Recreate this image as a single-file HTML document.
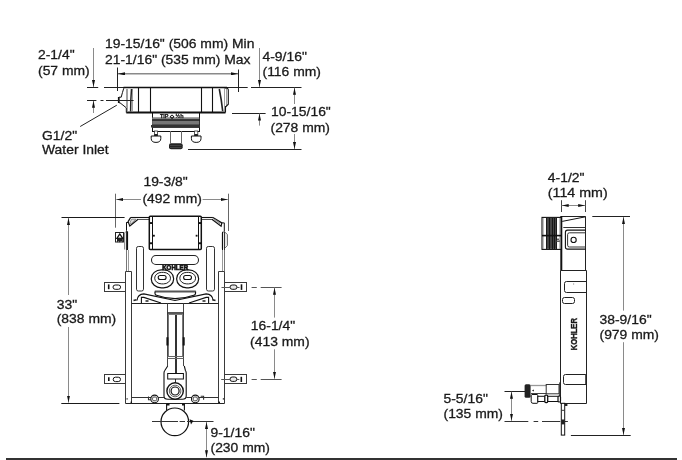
<!DOCTYPE html>
<html><head><meta charset="utf-8"><style>
html,body{margin:0;padding:0;background:#fff;width:682px;height:460px;overflow:hidden}
svg{display:block;will-change:transform}
text{font-family:"Liberation Sans",sans-serif;fill:#1a1a1a}
.d{font-size:13px;stroke:#1a1a1a;stroke-width:0.3px}
.b{font-weight:bold}
</style></head><body>
<svg width="682" height="460" viewBox="0 0 682 460">
<defs>
<marker id="ar" viewBox="0 0 7 3" refX="7" refY="1.5" markerWidth="7" markerHeight="3" orient="auto-start-reverse" markerUnits="userSpaceOnUse"><path d="M7,1.5 L0,0 L0,3 z" fill="#111"/></marker>
</defs>

<!-- ================= TOP VIEW ================= -->
<g stroke="#222" stroke-width="1" fill="none">
<line x1="117.5" y1="67.5" x2="117.5" y2="91"/>
<line x1="238.5" y1="69.5" x2="238.5" y2="92"/>
<line x1="118" y1="73.8" x2="238" y2="73.8" stroke="#8a8a8a" stroke-width="1.4" marker-start="url(#ar)" marker-end="url(#ar)"/>
<line stroke="#8a8a8a" x1="93.5" y1="48" x2="93.5" y2="87" marker-end="url(#ar)"/>
<line stroke="#8a8a8a" x1="93.5" y1="113" x2="93.5" y2="100.8" marker-end="url(#ar)"/>
<path d="M87,87.5H98.2M104,87.5H124M227,87.5H247.7M251,87.5H301.5"/>
<path d="M87,100.5H96.4M100.5,100.5H103.5M107,100.5H118.5"/>
<line x1="80.2" y1="126.5" x2="116.8" y2="105.2"/>
<line stroke="#8a8a8a" x1="259.5" y1="48" x2="259.5" y2="87" marker-end="url(#ar)"/>
<line x1="232" y1="113.5" x2="265.6" y2="113.5"/>
<line stroke="#8a8a8a" x1="259.5" y1="125.6" x2="259.5" y2="113.6" marker-end="url(#ar)"/>
<line stroke="#8a8a8a" x1="294.5" y1="104" x2="294.5" y2="87.8" marker-end="url(#ar)"/>
<line stroke="#8a8a8a" x1="294.5" y1="134" x2="294.5" y2="149" marker-end="url(#ar)"/>
<line x1="188" y1="149.5" x2="301.5" y2="149.5"/>
</g>
<g stroke="#111" fill="none">
<path d="M123.5,87.5H227" stroke-width="1.6"/>
<path d="M126.3,112.6H225.5" stroke-width="2"/>
<line x1="138.5" y1="88" x2="138.5" y2="112" stroke-width="1.1"/>
<line x1="150.5" y1="88" x2="150.5" y2="112" stroke-width="1.1"/>
<line x1="201.5" y1="88" x2="201.5" y2="112" stroke-width="1.1"/>
<line x1="212.5" y1="88" x2="212.5" y2="112" stroke-width="1.1"/>
<!-- left cap -->
<path d="M123.8,88.2 Q122.5,92 121.2,97.2 H119 V102.8 H120 L126.3,107.8 V112.6" stroke-width="1"/>
<path d="M118.6,97 V103" stroke-width="1.4"/>
<path d="M126.5,89V107.5M127.5,89V111.5M132.5,89V111.5" stroke="#888" stroke-width="0.8"/>
<path d="M131.5,89 Q130.6,100 130.6,111.5" stroke="#222" stroke-width="1.5"/>
<path d="M133.6,100.5H106" stroke="#222" stroke-width="1"/>
<!-- right cap -->
<path d="M219.3,89 Q221.5,100 222.7,111.2" stroke="#222" stroke-width="1.6"/>
<path d="M224.5,89V111.2M226.5,89V106" stroke="#888" stroke-width="0.8"/>
<path d="M224,87.6 L227.3,88.3 Q228.3,89 228.3,90 V104.2 L225.9,106.6 H225.5 V112.6" stroke-width="1.1"/>
<!-- base -->
<rect x="152.5" y="113" width="47" height="18.5" fill="#fff" stroke-width="1"/>
<rect x="152.3" y="117.6" width="46.9" height="10.3" fill="#555" stroke="none"/>
<rect x="152.3" y="117.6" width="46.9" height="1.5" fill="#888" stroke="none"/>
<rect x="152.3" y="119.1" width="46.9" height="1.9" fill="#333" stroke="none"/>
<rect x="152.3" y="121" width="46.9" height="3.6" fill="#777" stroke="none"/>
<rect x="152.3" y="124.6" width="46.9" height="3.2" fill="#333" stroke="none"/>
<path d="M151.5,125V127.5M199.5,125V127.5" stroke="#333" stroke-width="1"/>
<path d="M170.5,131V143.3M181.5,131V143.3" stroke="#666" stroke-width="1"/>
<rect x="169" y="143.3" width="13.7" height="6" rx="2" fill="#222" stroke="none"/>
<path d="M170,145.5H181.5M170,147.5H181.5" stroke="#555" stroke-width="0.6"/>
<rect x="154.4" y="131" width="3.2" height="5" fill="#fff" stroke="#333" stroke-width="0.8"/>
<rect x="154.4" y="134" width="3.2" height="2" fill="#222" stroke="none"/>
<path d="M151.2,136 H160.8 V138.5 Q160.8,142.4 156,142.4 Q151.2,142.4 151.2,138.5 Z" fill="#fff" stroke-width="1"/>
<rect x="194.6" y="131" width="3.2" height="5" fill="#fff" stroke="#333" stroke-width="0.8"/>
<rect x="194.6" y="134" width="3.2" height="2" fill="#222" stroke="none"/>
<path d="M191.4,136 H201 V138.5 Q201,142.4 196.2,142.4 Q191.4,142.4 191.4,138.5 Z" fill="#fff" stroke-width="1"/>
</g>
<text x="160" y="117.6" class="b" style="font-size:5.2px" stroke="#111" stroke-width="0.25" textLength="23.5" lengthAdjust="spacingAndGlyphs">TIP ◇ ½h</text>

<!-- ================= FRONT VIEW ================= -->
<g stroke="#222" stroke-width="1" fill="none">
<!-- width dim -->
<line x1="115.5" y1="193.7" x2="115.5" y2="227.7" stroke="#666"/>
<line x1="228.5" y1="193.7" x2="228.5" y2="231" stroke="#666"/>
<line x1="116.3" y1="199.5" x2="141" y2="199.5" stroke="#8a8a8a" marker-start="url(#ar)"/>
<line x1="202.6" y1="199.5" x2="227.8" y2="199.5" stroke="#8a8a8a" marker-end="url(#ar)"/>
<!-- 33 dim -->
<line x1="61.5" y1="217.5" x2="124.6" y2="217.5" stroke="#1a1a1a"/>
<line x1="68.5" y1="217.9" x2="68.5" y2="295" stroke="#8a8a8a" marker-start="url(#ar)"/>
<line x1="68.5" y1="327" x2="68.5" y2="402.6" stroke="#8a8a8a" marker-end="url(#ar)"/>
<line x1="61.3" y1="403.5" x2="119.4" y2="403.5" stroke="#1a1a1a"/>
<!-- 16-1/4 dim -->
<path d="M251.6,287.5H256.8M260.7,287.5H281.6" stroke="#555"/>
<path d="M251.6,379.5H256.8M260.7,379.5H281.6" stroke="#555"/>
<line x1="274.5" y1="287.7" x2="274.5" y2="317.6" stroke="#8a8a8a" marker-start="url(#ar)"/>
<line x1="274.5" y1="349.3" x2="274.5" y2="378.7" stroke="#8a8a8a" marker-end="url(#ar)"/>
<!-- 9-1/16 dim -->
<line x1="206.5" y1="422" x2="206.5" y2="457.3" stroke="#8a8a8a" marker-start="url(#ar)" marker-end="url(#ar)"/>
</g>

<g stroke="#111" stroke-width="1" fill="none">
<!-- top rails left -->
<path d="M130.7,217.5H149.4" stroke-width="1.1"/>
<path d="M138.1,219.5H149.4" stroke="#555"/>
<path d="M130.7,217.4 L128.1,221.6 L129.8,225.9 L138.1,219.2" stroke-width="1.2"/>
<path d="M131.6,219.2 L130.1,222.3 L130.8,224 L135.8,219.2 Z" fill="#e0e0e0" stroke="#666" stroke-width="0.7"/>
<path d="M126.3,222.5H128.1M126.5,222.4V230.7"/>
<!-- top rails right -->
<path d="M201.3,217.5H212.9" stroke-width="1.1"/>
<path d="M201.3,219.5H211.9" stroke="#555"/>
<path d="M212.9,217.4 L221.8,222.9 L221.1,226.2 L211.9,219.2" stroke-width="1.2"/>
<path d="M214.5,219 L219.8,222.7 L219.8,223.8 L216.5,221.3 Z" fill="#e0e0e0" stroke="#666" stroke-width="0.7"/>
<path d="M221.8,222.9 H224.3 V231.8"/>
<!-- side plates -->
<path d="M124.5,249.5 V233 Q124.7,231.6 127.7,231.5 V249.5" fill="#e6e6e6" stroke="#777" stroke-width="0.8"/>
<line x1="127.5" y1="231.5" x2="127.5" y2="250" stroke-width="1"/>
<path d="M222.3,248.8 V233 Q222.6,231.7 224.5,231.8 L227.5,234.5 V245.5 L224.5,248.5" fill="#e6e6e6" stroke="#666" stroke-width="0.9"/>
<line x1="222.5" y1="231.8" x2="222.5" y2="250" stroke-width="1"/>
<!-- fitting left -->
<rect x="115.5" y="232.5" width="8" height="9.5" fill="#fff" stroke="#222" stroke-width="1"/>
<path d="M116.9,238.3 L119.8,234 L122.7,238.3 Z" fill="#fff" stroke="#111" stroke-width="1.3"/>
<path d="M117,238.8 L119.8,237.8 L122.8,238.8 V242.5 L121,241 L119.8,242.5 L118.5,241 L117,242.5 Z" fill="#222" stroke="none"/>
<!-- tank panel -->
<rect x="149.3" y="216.3" width="52" height="33.1" rx="1" fill="#fff" stroke-width="1.5"/>
<line x1="152.5" y1="217" x2="152.5" y2="249" stroke-width="1"/>
<line x1="198.5" y1="217" x2="198.5" y2="249" stroke-width="1"/>
<rect x="149.6" y="222.1" width="2.6" height="1.9" fill="#111" stroke="none"/>
<rect x="149.6" y="242.3" width="2.6" height="1.9" fill="#111" stroke="none"/>
<rect x="198.4" y="222.1" width="2.6" height="1.9" fill="#111" stroke="none"/>
<rect x="198.4" y="242.3" width="2.6" height="1.9" fill="#111" stroke="none"/>
<rect x="153" y="234.8" width="1.8" height="1.8" fill="#111" stroke="none"/>
<rect x="195.7" y="234.8" width="1.8" height="1.8" fill="#111" stroke="none"/>
<!-- upper frame lines -->
<path d="M126.5,230.7V250" stroke="#333"/><path d="M126.5,250V271.5" stroke="#777"/>
<path d="M128.5,250V271.3" stroke="#999"/>
<path d="M224.5,231.8V250" stroke="#333"/><path d="M224.5,250V271.5" stroke="#777"/>
<path d="M222.5,250V271.3" stroke="#999"/>
<!-- pillars -->
<rect x="136.5" y="246.5" width="7" height="44.5" rx="1.8" stroke="#333"/>
<rect x="206.5" y="246.5" width="8" height="44.5" rx="1.8" stroke="#333"/>
<!-- top pill -->
<rect x="151.5" y="255.5" width="47" height="9" rx="4.5" stroke="#222" stroke-width="1.05"/>
<!-- buttons -->
<rect x="151.3" y="269.9" width="22.3" height="17.9" rx="10" ry="8.5" stroke-width="1.2"/>
<rect x="154.7" y="272.4" width="15.8" height="11.5" rx="7" ry="5.7" stroke="#222"/>
<rect x="158.2" y="275.5" width="7.9" height="4" rx="2" stroke-width="1.1"/>
<rect x="176.7" y="269.9" width="21.9" height="17.9" rx="10" ry="8.5" stroke-width="1.2"/>
<rect x="179.8" y="272.4" width="15.8" height="11.5" rx="7" ry="5.7" stroke="#222"/>
<rect x="183.6" y="275.5" width="7.9" height="4" rx="2" stroke-width="1.1"/>
<!-- frame posts -->
<path d="M125.5,271.5 H131.5 V403.5 M125.5,271.5 V403.5" stroke="#3a3a3a" stroke-width="1"/>
<path d="M218.5,271.5 H224.5 V403.5 M218.5,271.5 V403.5" stroke="#3a3a3a" stroke-width="1"/>
<!-- brackets -->
<rect x="104.5" y="282.5" width="21" height="9" stroke="#3a3a3a" stroke-width="1"/>
<line x1="108.7" y1="284.4" x2="108.7" y2="289.2" stroke-width="1.6"/>
<rect x="113" y="285" width="7.6" height="4.3" rx="2.2" stroke-width="1"/>
<rect x="224.5" y="282.5" width="22" height="9" stroke="#3a3a3a" stroke-width="1"/>
<rect x="230" y="285" width="7" height="4.3" rx="2.2" fill="#e8e8e8" stroke-width="1"/>
<line x1="241.5" y1="284.3" x2="241.5" y2="289.9" stroke-width="1.6"/>
<path d="M221.5,287.5H230M237,287.5H239.5" stroke="#555"/>
<rect x="104.5" y="374.5" width="21" height="9" stroke="#3a3a3a" stroke-width="1"/>
<line x1="108.8" y1="377.2" x2="108.8" y2="381.1" stroke-width="1.6"/>
<rect x="113.2" y="377.2" width="7.3" height="4.4" rx="2.2" stroke-width="1"/>
<rect x="224.5" y="374.5" width="22" height="9" stroke="#3a3a3a" stroke-width="1"/>
<rect x="230" y="377" width="6.9" height="4.4" rx="2.2" fill="#e8e8e8" stroke-width="1"/>
<line x1="241.3" y1="376.8" x2="241.3" y2="382" stroke-width="1.6"/>
<path d="M221.2,379.5H230M237,379.5H239.3" stroke="#555"/>
<!-- pad -->
<path d="M154.8,291.5 H195.8" stroke="#555" stroke-width="1.8"/>
<path d="M155,291.5 Q154.6,295 156.5,295.3 Q175,302 193.8,295.3 Q195.9,295 195.6,291.5" stroke-width="1.1"/>
<!-- cradle -->
<path d="M137,300.5 Q137.5,294.3 143.9,293.9 L175,300.5 L206.1,293.9 Q212.5,294.3 213.2,300.5" stroke-width="1.1"/>
<path d="M141.4,303 V297.4 H143.9 L161,302.9 M189,302.9 L206.1,297.4 H208.6 V303" stroke-width="1.1"/>
<path d="M133.5,300.6 L136.5,299.8 M145.5,301 h3 M202.5,301 h3 M212.5,299.8 l3,0.8" stroke="#222" stroke-width="1.6"/>
<!-- crossbar -->
<line x1="131.5" y1="303.5" x2="218.5" y2="303.5" stroke="#222" stroke-width="1"/>
<!-- pipe -->
<path d="M167.5,303.5V366M183.5,303.5V366" stroke="#444" stroke-width="1"/>
<rect x="167.5" y="312.2" width="16" height="2.4" fill="#2a2a2a" stroke="none"/><line x1="168" y1="313.4" x2="183" y2="313.4" stroke="#999" stroke-width="0.5"/>
<path d="M168.5,315V357M182.5,315V357" stroke="#777"/>
<path d="M175.5,315V383M176.5,315V383" stroke="#333"/>
<path d="M167.5,356.5H183.5M167.5,358.5H183.5" stroke="#666"/>
<path d="M167.4,337.2 V345.6 M183.7,337.2 V345.6" stroke-width="2"/>
<!-- elbow -->
<path d="M167.7,366 L164.8,370.5 Q164,371.5 164,373 V396 Q164,399.3 168,399.3 H182.3 Q186.2,399.3 186.2,396 V373 Q186.2,371.5 185.4,370.5 L184.3,366" fill="#fff" stroke-width="1.1"/>
<path d="M175.5,366V373.5M176.5,366V373.5M175.5,379V382.7" stroke="#333"/>
<rect x="167.7" y="373.5" width="15.7" height="5.5" fill="#fff"/>
<circle cx="175.1" cy="391" r="8.2" fill="#fff" stroke-width="1.4"/>
<circle cx="175.1" cy="391" r="5.8" stroke="#666"/>
<circle cx="175.1" cy="391" r="4" stroke-width="1.2"/>
<!-- bottom bar -->
<path d="M131.5,397.5H164M186.2,397.5H218.5" stroke="#333" stroke-width="1"/>
<line x1="125.5" y1="403.5" x2="224.5" y2="403.5" stroke="#222" stroke-width="1"/>
<circle cx="154.6" cy="398.9" r="3.8" fill="#fff" stroke-width="1.1"/>
<rect x="152.6" y="397" width="4" height="3.8" rx="1.2" stroke="#444"/>
<circle cx="195.3" cy="398.9" r="3.8" fill="#fff" stroke-width="1.1"/>
<rect x="193.3" y="397" width="4" height="3.8" rx="1.2" stroke="#444"/>
<path d="M148.5,396.5 V399.8 H150.8 M200.7,396.3 H203.6 V399.8" stroke="#333" stroke-width="1.1"/>
<rect x="126.5" y="398.3" width="1.2" height="1.2" fill="#111" stroke="none"/>
<rect x="130.6" y="401.6" width="1.4" height="1.4" fill="#111" stroke="none"/>
<rect x="222.8" y="398.3" width="1.2" height="1.2" fill="#111" stroke="none"/>
<rect x="218.6" y="401.6" width="1.4" height="1.4" fill="#111" stroke="none"/>
<!-- lower bracket -->
<path d="M166.6,403.5 V410.5 M184.4,403.5 V410.5" stroke-width="1.1"/><path d="M167,404.5 h2.5 M182,404.5 h2.5" stroke="#111" stroke-width="2"/>
<circle cx="174.8" cy="421.8" r="13.8" fill="#fff" stroke-width="1.2"/>
<path d="M152,421.5H178M179.6,421.5H185M187,421.5H213.5" stroke="#333"/>
<path d="M189.5,419.3 L193.4,420.8 L191,424.5 Z" fill="#111" stroke="none"/>
</g>
<text x="162.2" y="269.9" class="b" style="font-size:6.4px" stroke="#111" stroke-width="0.6" textLength="25.9" lengthAdjust="spacingAndGlyphs">KOHLER</text>

<!-- ================= SIDE VIEW ================= -->
<g stroke="#222" stroke-width="1" fill="none">
<line x1="561.5" y1="200.2" x2="561.5" y2="212" stroke="#444"/>
<line x1="585.5" y1="200.2" x2="585.5" y2="212" stroke="#444"/>
<line x1="561.7" y1="205.5" x2="585.2" y2="205.5" stroke="#8a8a8a" marker-start="url(#ar)" marker-end="url(#ar)"/>
<line x1="592.3" y1="216.5" x2="630" y2="216.5"/>
<line x1="623.5" y1="217.1" x2="623.5" y2="310.6" stroke="#8a8a8a" marker-start="url(#ar)"/>
<line x1="623.5" y1="342.2" x2="623.5" y2="434.9" stroke="#8a8a8a" marker-end="url(#ar)"/>
<line x1="570.9" y1="435.5" x2="630.7" y2="435.5"/>
<!-- 5-5/16 -->
<line x1="504.5" y1="391.5" x2="525" y2="391.5"/>
<path d="M504.5,421.5H528.3M533.6,421.5H538.2M542,421.5H560.3M564.8,421.5H567.9" stroke="#333"/>
<line x1="511.5" y1="391.8" x2="511.5" y2="420.8" stroke="#8a8a8a" marker-start="url(#ar)" marker-end="url(#ar)"/>
</g>
<g stroke="#111" stroke-width="1" fill="none">
<!-- body -->
<path d="M561.1,216.5 H585.5 V271" stroke-width="1" stroke="#222"/>
<line x1="561.3" y1="216" x2="561.3" y2="270.5" stroke-width="2"/>
<path d="M562.2,221.4 L585.5,216.8" stroke-width="1"/>
<path d="M563.3,227.5H585.5" stroke="#333"/>
<path d="M585.6,230.1 H567.6 Q565.4,230.1 565.4,232.3 V246.9 Q565.4,249.1 567.6,249.1 H585.6" stroke-width="1.1"/>
<path d="M585.6,232.8 H569.4 Q567.6,232.8 567.6,234.6 V245.2 Q567.6,247 569.4,247 H585.6" stroke="#333"/>
<circle cx="573.6" cy="239.9" r="2.6" stroke-width="1.1"/>
<!-- button -->
<rect x="542" y="217.4" width="19" height="32" fill="#fff" stroke-width="1.1"/>
<rect x="546.3" y="217.9" width="10.4" height="31" fill="#444" stroke="none"/>
<path d="M546.5,218V249M549.5,218V249M552.5,218V249M554.5,218V249M556.5,218V249" stroke="#111" stroke-width="0.9"/>
<path d="M543.5,218V249M559.5,218V249" stroke="#999" stroke-width="0.6"/>
<line x1="542" y1="235.6" x2="561" y2="235.6" stroke-width="1.6"/>
<path d="M556.5,241.5 L558,238.5 L559.5,241.5 Z" stroke="#333" stroke-width="0.8" fill="#fff"/>
<!-- lower body -->
<path d="M560.5,270.5 H586.5 V403.5 H560.5 Z" stroke-width="1" stroke="#222"/>
<path d="M586.5,281.5 H566.5 Q564.5,281.5 564.5,283.5 V290.5 Q564.5,292.5 566.5,292.5 H586.5" stroke-width="1" stroke="#222"/>
<rect x="573.3" y="283.6" width="0.8" height="0.8" fill="#333" stroke="none"/>
<rect x="562.5" y="297.5" width="12" height="6" rx="2" stroke-width="1" stroke="#222"/>
<path d="M586.5,374.5 H565.5 Q563.5,374.5 563.5,376.5 V382.5 Q563.5,384.5 565.5,384.5 H586.5" stroke-width="1" stroke="#222"/>
<line x1="585.5" y1="374.5" x2="585.5" y2="384" stroke="#555"/>
<!-- valve -->
<line x1="559.5" y1="382.4" x2="559.5" y2="396" stroke="#555"/>
<path d="M530.5,385.5 H546.5" stroke="#999" stroke-width="1.3"/>
<path d="M531,393.5H546.5" stroke="#444"/>
<rect x="546.2" y="384.5" width="12.8" height="9.3" stroke="#333"/>
<rect x="524.6" y="384.2" width="6" height="13.6" rx="1.5" fill="#222" stroke="none"/>
<path d="M533.8,389.6 L532,390.6 L533.8,391.6 Z" fill="#111" stroke="none"/>
<path d="M532,394.5 H537 Q537.8,394.5 537.8,395.5 V402.3 Q537.8,403.3 537,403.3 H533 Q531.2,403.3 531.2,401.5 V395.3 Z" fill="#fff" stroke-width="1"/>
<rect x="537.8" y="396.3" width="22" height="5.2" fill="#fff" stroke-width="1"/>
<rect x="544.8" y="395.2" width="2.9" height="7.4" rx="1" fill="#fff" stroke-width="1.3"/>
<rect x="558" y="396" width="2.5" height="6" rx="1" fill="#fff" stroke-width="1.2"/>
<!-- rod -->
<rect x="561.3" y="403.3" width="3.4" height="31.8" fill="#fff" stroke-width="1"/>
<rect x="561.3" y="419.5" width="3.4" height="4.9" fill="#222" stroke="none"/>
<rect x="561.3" y="409.8" width="3.4" height="1" fill="#333" stroke="none"/>
<rect x="565" y="403.5" width="2.4" height="2.5" fill="#222" stroke="none"/>
</g>
<text transform="translate(576.8,350.3) rotate(-90)" class="b" style="font-size:8.3px" stroke="#111" stroke-width="0.35" textLength="32.3" lengthAdjust="spacingAndGlyphs">KOHLER</text>

<!-- ================= TEXTS ================= -->
<text class="d" transform="matrix(1.07,0,0,1,38.0,59)">2-1/4"</text>
<text class="d" transform="matrix(1.07,0,0,1,38.0,75)">(57 mm)</text>
<text class="d" transform="matrix(1.07,0,0,1,105.0,48)">19-15/16" (506 mm) Min</text>
<text class="d" transform="matrix(1.07,0,0,1,105.0,64)">21-1/16" (535 mm) Max</text>
<text class="d" transform="matrix(1.07,0,0,1,262.5,61)">4-9/16"</text>
<text class="d" transform="matrix(1.07,0,0,1,262.5,76)">(116 mm)</text>
<text class="d" transform="matrix(1.07,0,0,1,271.0,116)">10-15/16"</text>
<text class="d" transform="matrix(1.07,0,0,1,270.5,132)">(278 mm)</text>
<text class="d" transform="matrix(1.07,0,0,1,42.0,140)">G1/2"</text>
<text class="d" transform="matrix(1.07,0,0,1,42.0,154)">Water Inlet</text>
<text class="d" transform="matrix(1.07,0,0,1,143.4,186)">19-3/8"</text>
<text class="d" transform="matrix(1.07,0,0,1,142.4,203)">(492 mm)</text>
<text class="d" transform="matrix(1.07,0,0,1,56.7,309)">33"</text>
<text class="d" transform="matrix(1.07,0,0,1,56.7,323)">(838 mm)</text>
<text class="d" transform="matrix(1.07,0,0,1,250.8,330)">16-1/4"</text>
<text class="d" transform="matrix(1.07,0,0,1,250.1,346)">(413 mm)</text>
<text class="d" transform="matrix(1.07,0,0,1,210.5,437)">9-1/16"</text>
<text class="d" transform="matrix(1.07,0,0,1,210.5,452)">(230 mm)</text>
<text class="d" transform="matrix(1.07,0,0,1,547.8,182)">4-1/2"</text>
<text class="d" transform="matrix(1.095,0,0,1,547.8,197)">(114 mm)</text>
<text class="d" transform="matrix(1.07,0,0,1,599.5,324)">38-9/16"</text>
<text class="d" transform="matrix(1.07,0,0,1,599.5,339)">(979 mm)</text>
<text class="d" transform="matrix(1.07,0,0,1,443.5,403)">5-5/16"</text>
<text class="d" transform="matrix(1.07,0,0,1,443.5,418)">(135 mm)</text>

<rect x="6" y="458" width="671" height="2" fill="#333"/>
</svg>
</body></html>
